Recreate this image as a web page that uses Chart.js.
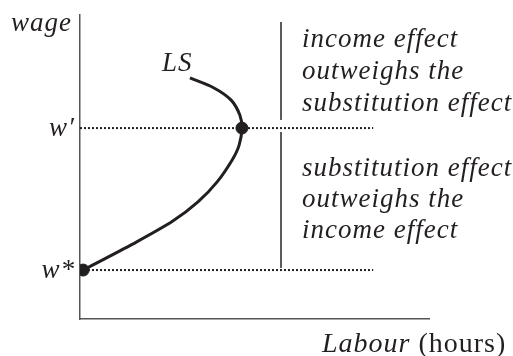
<!DOCTYPE html>
<html>
<head>
<meta charset="utf-8">
<script src="https://cdn.jsdelivr.net/npm/chart.js@4"></script>
<style>
    body { margin: 0; background: #fff; }
    #wrap { width: 513px; height: 356px; }
</style>
</head>
<body>
<div id="wrap"><canvas id="lsChart" width="513" height="356"></canvas></div>
<script>
// Labour supply curve (hours on x, wage on y, arbitrary units 0-10)
const supplyHours = [0.09, 1.52, 2.66, 3.38, 3.93, 4.36, 4.56, 4.64, 4.58, 4.33, 3.84, 3.15];
const supplyWage  = [1.61, 2.47, 3.22, 3.85, 4.51, 5.23, 5.72, 6.28, 6.71, 7.20, 7.60, 7.93];

// Key wages
const wageLabels = ['w*', 'w\u2032'];
const wageLevels = [1.61, 6.28];
const wageHours  = [0.09, 4.64];
const guideEnd   = 8.40;   // where the dotted wage lines stop

// Divider between the two regions
const dividerHours = 5.76;
const dividerUpper = [9.77, 6.55];
const dividerLower = [6.15, 1.68];

// Region notes
const upperNote = ['income effect', 'outweighs the', 'substitution effect'];
const lowerNote = ['substitution effect', 'outweighs the', 'income effect'];

const ink = '#231f20';
const serif = "'Liberation Serif', 'Times New Roman', serif";

const supplyPoints = supplyHours.map((h, i) => ({ x: h, y: supplyWage[i] }));
const keyPoints = wageLevels.map((w, i) => ({ x: wageHours[i], y: w }));

// Text labels drawn on top of the chart
const labelPlugin = {
    id: 'labels',
    afterDraw(chart) {
        const { ctx, scales: { x, y } } = chart;
        ctx.save();
        ctx.fillStyle = ink;
        ctx.textBaseline = 'alphabetic';
        ctx.letterSpacing = '1px';

        ctx.font = `italic 27px ${serif}`;
        ctx.textAlign = 'right';
        ctx.fillText('wage', x.left - 8, 31);
        wageLevels.forEach((w, i) => {
            ctx.fillText(wageLabels[i], x.left - 5, y.getPixelForValue(w) + 8);
        });

        ctx.textAlign = 'left';
        ctx.fillText('LS', 162, 71);

        const noteX = x.getPixelForValue(dividerHours) + 21;
        upperNote.forEach((t, i) => ctx.fillText(t, noteX, 47 + i * 32));
        lowerNote.forEach((t, i) => ctx.fillText(t, noteX, 176 + i * 31));

        // x axis title: italic word + upright unit
        ctx.font = `italic 28px ${serif}`;
        const word = 'Labour';
        ctx.fillText(word, 322, 352);
        const w = ctx.measureText(word + ' ').width;
        ctx.font = `28px ${serif}`;
        ctx.fillText('(hours)', 322 + w, 352);
        ctx.restore();
    }
};

const guide = (pts, dash, width, color) => ({
    data: pts,
    showLine: true,
    borderColor: color,
    borderWidth: width,
    borderDash: dash,
    pointRadius: 0,
    tension: 0
});

new Chart(document.getElementById('lsChart'), {
    type: 'scatter',
    data: {
        datasets: [
            guide([{ x: 0, y: wageLevels[0] }, { x: guideEnd, y: wageLevels[0] }], [2, 2], 2, ink),
            guide([{ x: 0, y: wageLevels[1] }, { x: guideEnd, y: wageLevels[1] }], [2, 2], 2, ink),
            guide([{ x: dividerHours, y: dividerUpper[0] }, { x: dividerHours, y: dividerUpper[1] }], [], 1, '#444'),
            guide([{ x: dividerHours, y: dividerLower[0] }, { x: dividerHours, y: dividerLower[1] }], [], 1, '#444'),
            {
                data: supplyPoints,
                showLine: true,
                borderColor: ink,
                borderWidth: 3,
                pointRadius: 0,
                tension: 0.3
            },
            {
                data: keyPoints,
                showLine: false,
                pointRadius: 6,
                pointBackgroundColor: ink,
                pointBorderColor: ink
            }
        ]
    },
    options: {
        responsive: false,
        animation: false,
        layout: { padding: { left: 80, top: 15, right: 84, bottom: 37 } },
        plugins: { legend: { display: false }, tooltip: { enabled: false } },
        scales: {
            x: {
                type: 'linear', min: 0, max: 10,
                grid: { display: false },
                ticks: { display: false },
                border: { color: '#555', width: 1.5 },
                afterFit: (s) => { s.height = 0; }
            },
            y: {
                type: 'linear', min: 0, max: 10,
                grid: { display: false },
                ticks: { display: false },
                border: { color: '#555', width: 1.5 },
                afterFit: (s) => { s.width = 0; }
            }
        }
    },
    plugins: [labelPlugin]
});
</script>
</body>
</html>
